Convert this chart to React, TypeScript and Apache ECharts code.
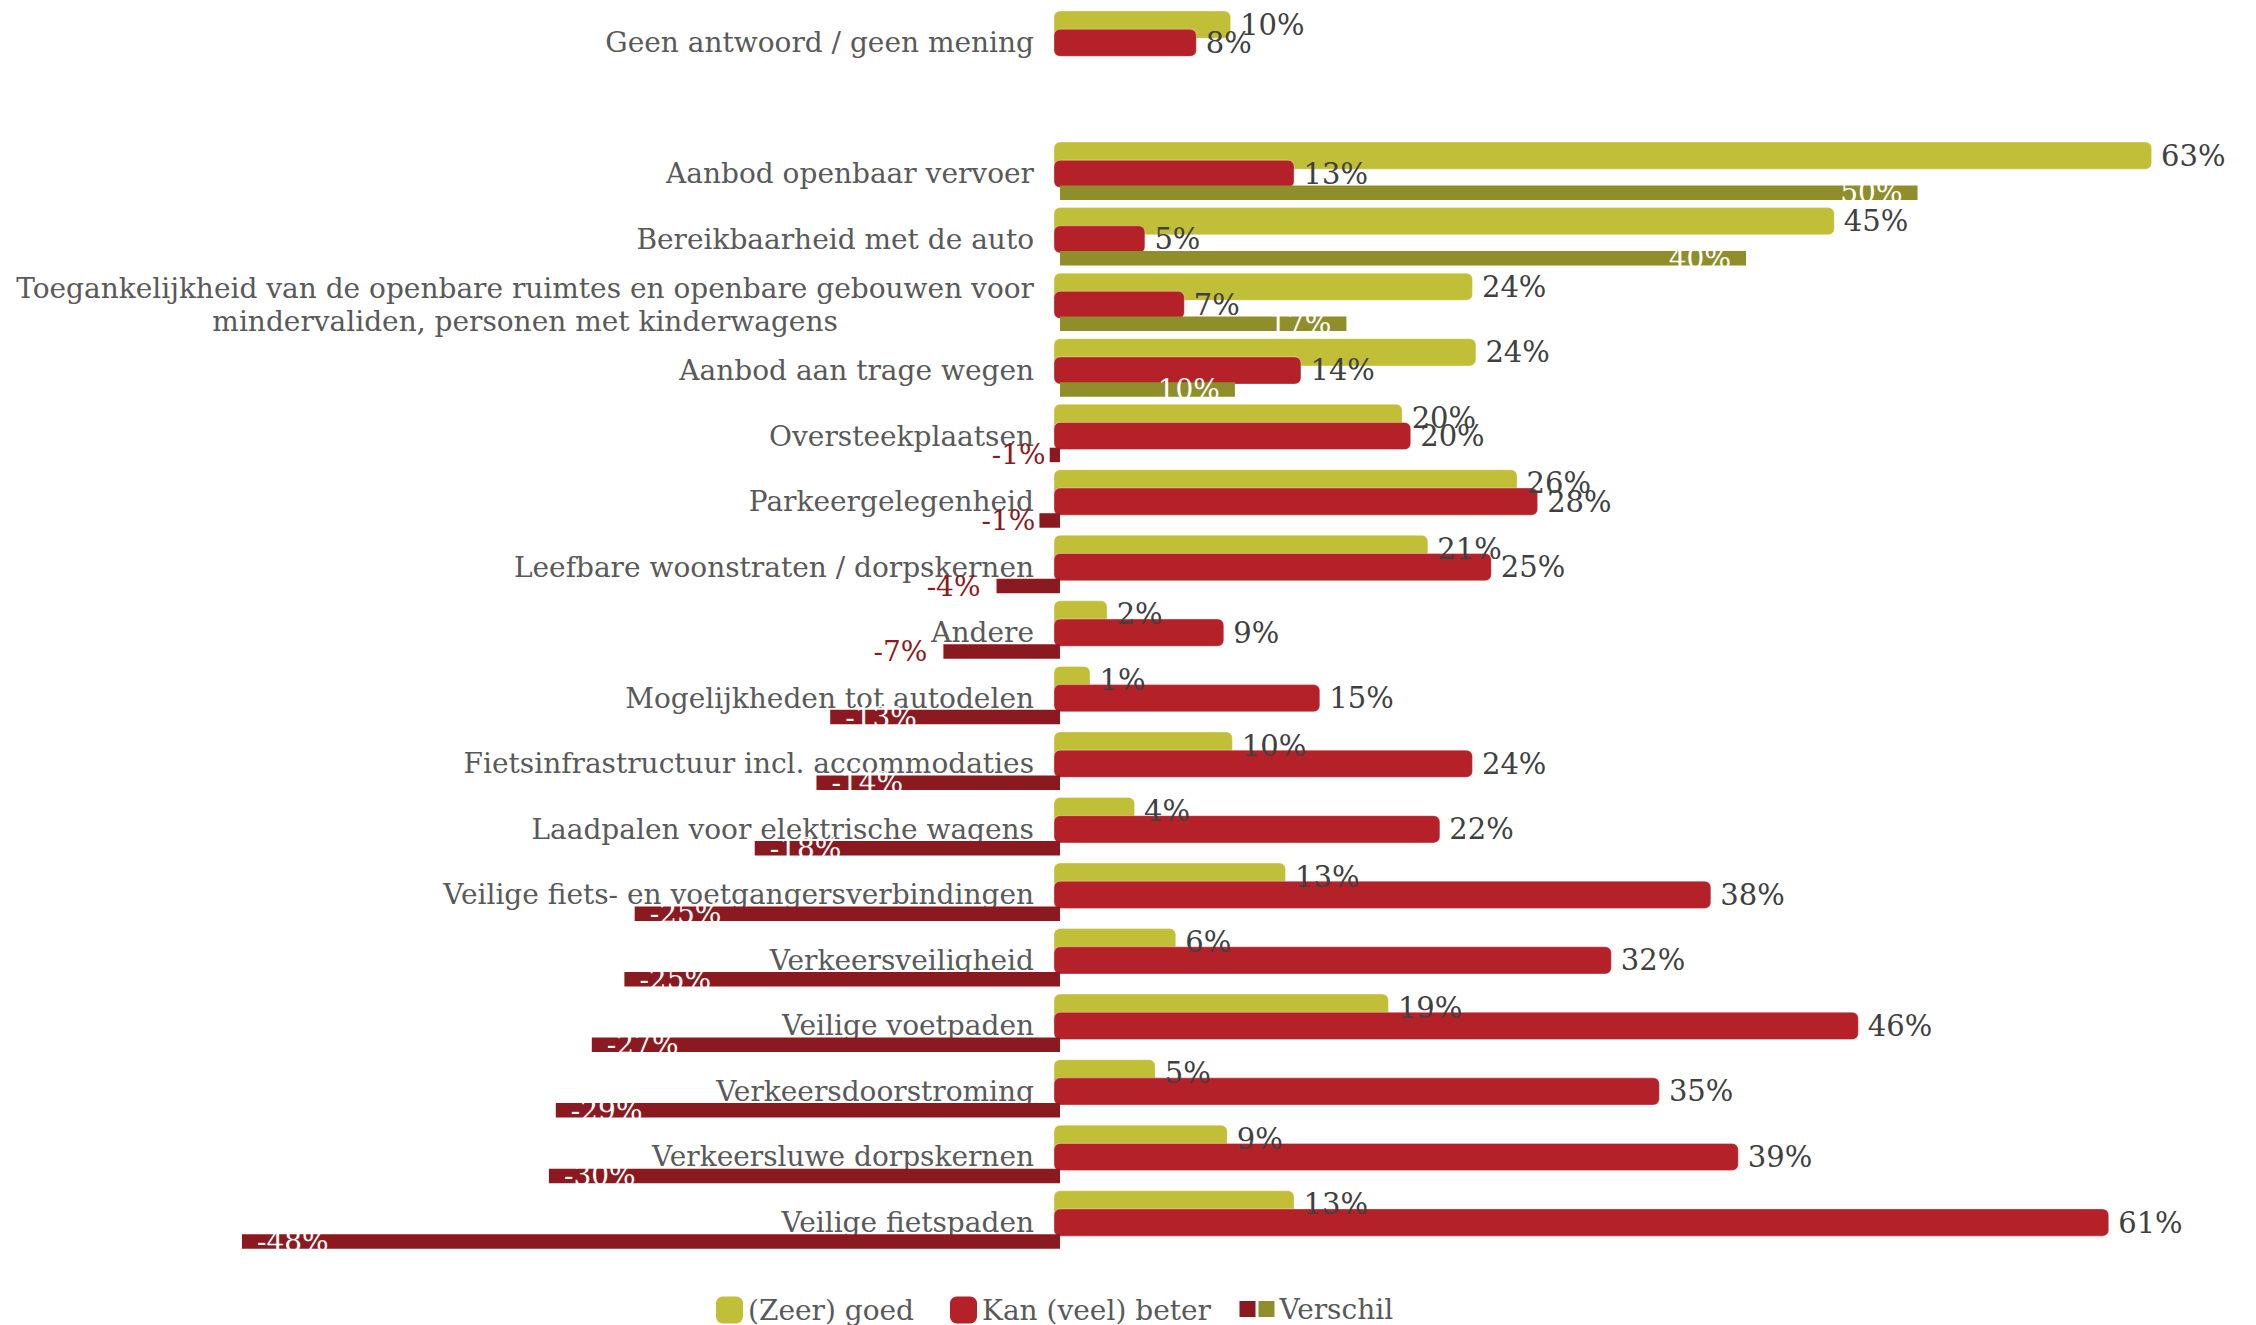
import React, { useEffect, useRef } from 'react';
import * as echarts from 'echarts';

const categories: string[] = [
  'Geen antwoord / geen mening',
  '',
  'Aanbod openbaar vervoer',
  'Bereikbaarheid met de auto',
  'Toegankelijkheid van de openbare ruimtes en openbare gebouwen voor\nmindervaliden, personen met kinderwagens',
  'Aanbod aan trage wegen',
  'Oversteekplaatsen',
  'Parkeergelegenheid',
  'Leefbare woonstraten / dorpskernen',
  'Andere',
  'Mogelijkheden tot autodelen',
  'Fietsinfrastructuur incl. accommodaties',
  'Laadpalen voor elektrische wagens',
  'Veilige fiets- en voetgangersverbindingen',
  'Verkeersveiligheid',
  'Veilige voetpaden',
  'Verkeersdoorstroming',
  'Verkeersluwe dorpskernen',
  'Veilige fietspaden',
];

const goed: (number | null)[] = [9.6, null, 63.3, 44.8, 23.7, 23.9, 19.6, 26.3, 21.1, 2.4, 1.4, 9.7, 4.0, 12.8, 6.4, 18.8, 5.2, 9.4, 13.3];
const beter: (number | null)[] = [7.6, null, 13.3, 4.6, 6.9, 13.7, 20.1, 27.5, 24.8, 9.2, 14.8, 23.7, 21.8, 37.6, 31.8, 46.2, 34.6, 39.2, 60.8];
const verschil: (number | null)[] = [null, null, 50, 40, 16.7, 10.2, -0.6, -1.2, -3.7, -6.8, -13.4, -14.2, -17.8, -24.8, -25.4, -27.3, -29.4, -29.8, -47.7];

const legendNames = ['(Zeer) goed', 'Kan (veel) beter', 'Verschil'];

const FONT = 'DejaVu Serif';
const YELLOW = '#C1BE38';
const RED = '#B52129';
const OLIVE = '#8F8E2B';
const DARKRED = '#8A1A1F';

const pct = (p: any) => Math.round(Number(p.value)) + '%';

// rounded bar drawn through the axes' scales; "pad" is the soft outline around the bar
function makeRoundBar(color: string, centerShift: number) {
  return (_params: any, api: any) => {
    const i = api.value(0);
    const v = api.value(1);
    const p0 = api.coord([0, i]);
    const p1 = api.coord([v, i]);
    const h = 27.2;
    const pad = 6;
    const x = Math.min(p0[0], p1[0]) - pad;
    const w = Math.abs(p1[0] - p0[0]) + pad * 2;
    return {
      type: 'rect',
      shape: { x, y: p0[1] + centerShift - h / 2, width: w, height: h, r: 6 },
      style: { fill: color, stroke: 'rgba(255,255,255,0.35)', lineWidth: 1 },
      textContent: {
        type: 'text',
        style: {
          text: Math.round(v) + '%',
          fill: '#404040',
          fontSize: 29,
          fontFamily: FONT,
        },
      },
      textConfig: { position: 'right', distance: 9 },
    };
  };
}

export default function App() {
  const ref = useRef<HTMLDivElement>(null);
  useEffect(() => {
    if (!ref.current) return;
    const chart = echarts.init(ref.current, undefined, { renderer: 'svg' });

    const negData = verschil.map((v) => {
      if (v == null || v >= 0) return '-';
      const small = v > -10;
      return {
        value: v,
        label: small
          ? { position: 'left', color: DARKRED, distance: Math.abs(v) < 2 ? 4 : 16 }
          : { position: 'insideLeft', color: '#FFFFFF', distance: 15 },
      };
    });
    const posData = verschil.map((v) => (v == null || v <= 0 ? '-' : v));

    const toPairs = (arr: (number | null)[]) =>
      arr.map((v, i) => (v == null ? null : [i, v])).filter((d) => d != null);

    const option: any = {
      animation: false,
      backgroundColor: '#FFFFFF',
      grid: {
        left: 202.5,
        right: 81.25,
        top: 10,
        height: 1245.3,
        containLabel: false,
        outerBoundsMode: 'none',
      },
      xAxis: { type: 'value', min: -50, max: 65, show: false },
      yAxis: {
        type: 'category',
        inverse: true,
        data: categories,
        offset: -857.5,
        axisLine: { show: false, onZero: false },
        axisTick: { show: false },
        splitLine: { show: false },
        axisLabel: {
          interval: 0,
          margin: 26,
          fontFamily: FONT,
          fontSize: 28,
          color: '#595959',
          formatter: (v: string) =>
            v.indexOf('\n') >= 0 ? v.split('\n').map((s) => '{c|' + s + '}').join('\n') : v,
          rich: {
            c: { align: 'center', fontFamily: FONT, fontSize: 28, color: '#595959', lineHeight: 33 },
          },
        },
      },
      legend: [
        {
          data: [legendNames[0], legendNames[1]],
          left: 716,
          top: 1296,
          padding: 0,
          itemWidth: 27,
          itemHeight: 27,
          itemGap: 36,
          icon: 'roundRect',
          selectedMode: false,
          itemStyle: { borderWidth: 0 },
          textStyle: { fontFamily: FONT, fontSize: 28, color: '#595959', lineHeight: 27 },
        },
        {
          data: ['Verschil (negatief)', legendNames[2]],
          left: 1239.5,
          top: 1295,
          padding: 0,
          itemWidth: 16,
          itemHeight: 16,
          itemGap: -2,
          icon: 'rect',
          selectedMode: false,
          itemStyle: { borderWidth: 0 },
          formatter: (n: string) => (n === legendNames[2] ? legendNames[2] : ''),
          textStyle: { fontFamily: FONT, fontSize: 28, color: '#595959', lineHeight: 16 },
        },
      ],
      series: [
        {
          name: legendNames[0],
          type: 'custom',
          data: toPairs(goed),
          encode: { y: 0, x: 1 },
          itemStyle: { color: YELLOW },
          renderItem: makeRoundBar(YELLOW, -18.2),
          z: 2,
        },
        {
          name: legendNames[1],
          type: 'custom',
          data: toPairs(beter),
          encode: { y: 0, x: 1 },
          itemStyle: { color: RED },
          renderItem: makeRoundBar(RED, 0),
          z: 2,
        },
        {
          name: 'spacer',
          type: 'bar',
          data: categories.map(() => '-'),
          barWidth: 37.8,
          barGap: '0%',
          silent: true,
          itemStyle: { color: 'transparent' },
        },
        {
          name: 'Verschil (negatief)',
          type: 'bar',
          stack: 'verschil',
          data: negData,
          barWidth: 14.5,
          barGap: '0%',
          itemStyle: { color: DARKRED },
          label: {
            show: true,
            formatter: pct,
            fontFamily: FONT,
            fontSize: 28,
          },
          z: 3,
        },
        {
          name: legendNames[2],
          type: 'bar',
          stack: 'verschil',
          data: posData,
          barWidth: 14.5,
          barGap: '0%',
          itemStyle: { color: OLIVE },
          label: {
            show: true,
            position: 'insideRight',
            distance: 15,
            formatter: pct,
            fontFamily: FONT,
            fontSize: 28,
            color: '#FFFFFF',
          },
          z: 3,
        },
      ],
    };

    chart.setOption(option);
    return () => chart.dispose();
  }, []);

  return (
    <div
      ref={ref}
      style={{ position: 'fixed', left: 0, top: 0, width: 2256, height: 1325, background: '#FFFFFF' }}
    />
  );
}
